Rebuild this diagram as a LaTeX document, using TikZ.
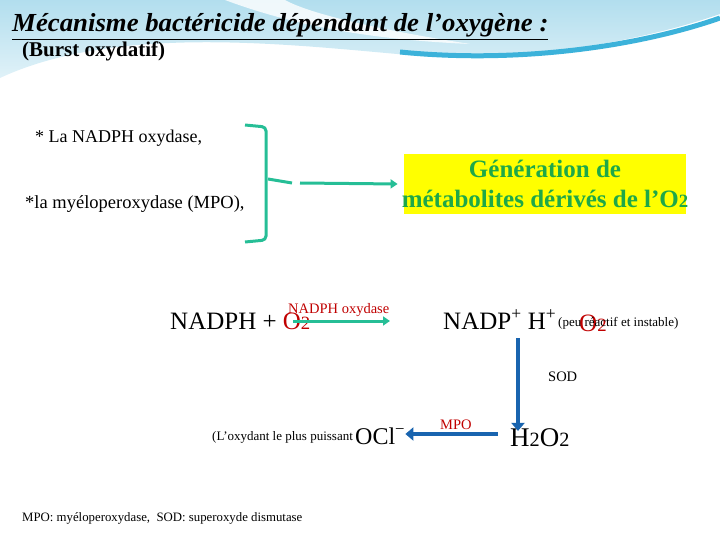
\documentclass[tikz,border=0pt]{standalone}
\usepackage{fontspec}
\setmainfont{Liberation Serif}
\usetikzlibrary{arrows.meta, positioning}
\definecolor{skyblue}{RGB}{178,222,238}
\definecolor{waveblue}{RGB}{60,178,218}
\definecolor{bracketgreen}{RGB}{38,190,150}
\definecolor{genyellow}{RGB}{255,255,0}
\definecolor{gengreen}{RGB}{30,168,72}
\definecolor{darkred}{RGB}{192,0,0}
\definecolor{arrowblue}{RGB}{25,100,175}
\newcommand{\smalldigit}[1]{\scalebox{0.75}{#1}}
\tikzset{
  txt/.style={anchor=base west, inner sep=0pt},
  greenarrow/.style={-{Triangle[width=9pt,length=7pt]}, line width=3pt, bracketgreen},
  bluearrow/.style={-{Triangle[width=13pt,length=8pt]}, line width=4.5pt, arrowblue}
}

\begin{document}
\begin{tikzpicture}[x=1pt, y=-1pt]
  \useasboundingbox (0,0) rectangle (720,540);
  % background wave
  \shade[top color=skyblue, bottom color=skyblue!40]
    (0,0) -- (720,0) -- (720,14) .. controls (640,42) and (520,62) .. (420,56)
    .. controls (300,46) and (120,22) .. (0,78) -- cycle;
  \fill[white, opacity=0.8] (225,0) .. controls (300,28) and (380,40) .. (470,44)
    .. controls (380,30) and (310,14) .. (285,0) -- cycle;
  \draw[waveblue, line width=5pt] (400,52) .. controls (520,64) and (640,46) .. (720,18);

  % titles
  \node[txt, font=\fontsize{26}{30}\selectfont\bfseries\itshape] (title) at (12,32)
    {\underline{\scalebox{1.03}[1]{Mécanisme bactéricide dépendant de l’oxygène :}}};
  \node[txt, font=\fontsize{21}{24}\selectfont\bfseries] (burst) at (22,57) {(Burst oxydatif)};

  % enzymes and bracket
  \node[txt, font=\fontsize{18}{21}\selectfont] (nox) at (35,143) {* La NADPH oxydase,};
  \node[txt, font=\fontsize{18.5}{21}\selectfont] (mpo) at (25,208) {*la myéloperoxydase (MPO),};
  \draw[bracketgreen, line width=3pt, rounded corners=4pt]
    (245,125) -- (266,127) -- (266,240) -- (245,242);
  \draw[bracketgreen, line width=3pt] (268,179) -- (292,183);
  \coordinate (brk) at (300,183);
  \node[fill=genyellow, text=gengreen, align=center, inner xsep=-2pt, inner ysep=6pt,
        font=\fontsize{25}{30}\selectfont\bfseries] (gen) at (545,184)
    {Génération de\\métabolites dérivés de l’O\smalldigit{2}};
  \draw[greenarrow] (brk) -- ([xshift=-6pt]gen.west);

  % reaction 1
  \node[txt, font=\fontsize{25}{29}\selectfont] (nadph) at (170,329)
    {NADPH + {\color{darkred}O\smalldigit{2}}};
  \node[txt, text=darkred, font=\fontsize{14.5}{17}\selectfont] (nox2) at (288,313) {NADPH oxydase};
  \node[txt, font=\fontsize{25}{29}\selectfont] (nadp) at (443,329)
    {NADP\textsuperscript{+}\ H\textsuperscript{+}};
  \node[txt, text=darkred, font=\fontsize{25}{29}\selectfont] (sup) at (579,331) {O\smalldigit{2}};
  \node[txt, font=\fontsize{13}{15}\selectfont] (instable) at (558,326) {(peu réactif et instable)};
  \coordinate (noxstart) at (293,321);
  \coordinate (noxend) at (390,321);
  \draw[greenarrow] (noxstart) -- (noxend);

  % reaction 2
  \node[txt, font=\fontsize{27}{31}\selectfont] (h2o2) at (510,446) {H\smalldigit{2}O\smalldigit{2}};
  \coordinate (sodtop) at (518,338);
  \draw[bluearrow] (sodtop) -- ([yshift=-3pt]sodtop |- h2o2.north);
  \node[txt, font=\fontsize{14.5}{17}\selectfont] (sod) at (548,381) {SOD};

  % reaction 3
  \node[txt, font=\fontsize{24}{28}\selectfont] (ocl) at (355,444) {OCl\textsuperscript{−}};
  \node[txt, font=\fontsize{13}{15}\selectfont] (puissant) at (212,440) {(L’oxydant le plus puissant};
  \draw[bluearrow, shorten <=12pt] (h2o2.west |- 0,434) -- (ocl.east |- 0,434);
  \node[txt, text=darkred, font=\fontsize{14.5}{17}\selectfont] (mpo2) at (440,429) {MPO};

  % legend
  \node[txt, font=\fontsize{12.8}{15}\selectfont] (legend) at (22,521)
    {MPO: myéloperoxydase,\ \ SOD: superoxyde dismutase};
\end{tikzpicture}
\end{document}
